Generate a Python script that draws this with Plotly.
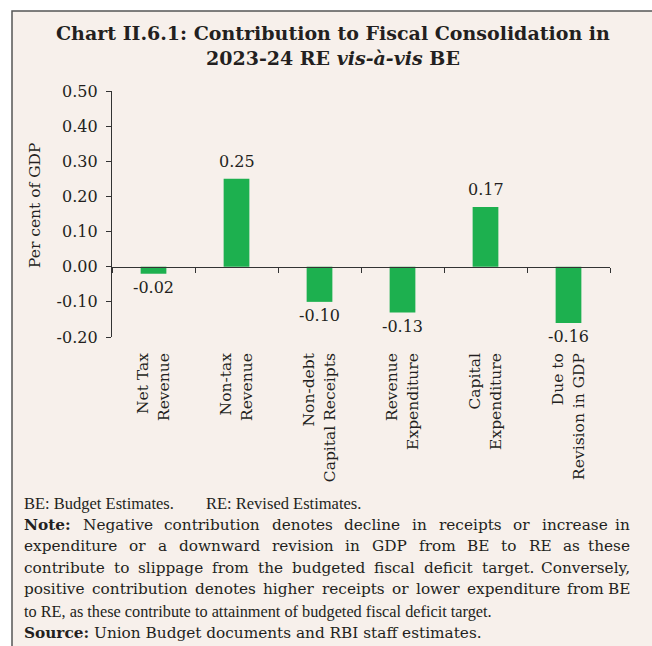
import plotly.graph_objects as go

categories = ["Net Tax<br>Revenue", "Non-tax<br>Revenue", "Non-debt<br>Capital Receipts",
              "Revenue<br>Expenditure", "Capital<br>Expenditure", "Due to<br>Revision in GDP"]
values = [-0.02, 0.25, -0.10, -0.13, 0.17, -0.16]
y_tickvals = [-0.2, -0.1, 0.0, 0.1, 0.2, 0.3, 0.4, 0.5]
y_ticktext = ["-0.20", "-0.10", "0.00", "0.10", "0.20", "0.30", "0.40", "0.50"]
y_range = [-0.2, 0.5]

title_lines = ["<b>Chart II.6.1: Contribution to Fiscal Consolidation in</b>",
               "<b>2023-24 RE <i>vis-à-vis</i> BE</b>"]
justified_lines = [
    "**Note:** Negative contribution denotes decline in receipts or increase in",
    "expenditure or a downward revision in GDP from BE to RE as these",
    "contribute to slippage from the budgeted fiscal deficit target. Conversely,",
    "positive contribution denotes higher receipts or lower expenditure from BE",
]
last_note_line = "to RE, as these contribute to attainment of budgeted fiscal deficit target."
source_line = "<b>Source:</b> Union Budget documents and RBI staff estimates."
abbr_left = "BE: Budget Estimates."
abbr_right = "RE: Revised Estimates."

W, H = 652, 646
L, R, T, B = 112, 42, 91, 309
PW, PH = W - L - R, H - T - B


def px(X):
    return (X - L) / PW


def py(Y):
    return (H - B - Y) / PH


BG = "#F7F0EB"
TXT = "#231F20"
GREEN = "#1DB04F"
SERIF = "DejaVu Serif"
COND = "Liberation Serif"
NOTE_SIZE = 15.3

# approximate DejaVu Serif advance widths (em) for word placement
_w = {" ": .318, ",": .318, "-": .338, ".": .318, ":": .337,
      "B": .735, "C": .765, "D": .802, "E": .730, "G": .799, "N": .837, "P": .675,
      "R": .753, "S": .685,
      "a": .596, "b": .640, "c": .560, "d": .640, "e": .592, "f": .370, "g": .640,
      "h": .644, "i": .320, "k": .606, "l": .320, "m": .948, "n": .644, "o": .602,
      "p": .640, "r": .478, "s": .513, "t": .402, "u": .644, "v": .565, "w": .856,
      "x": .564, "y": .565}
_wb = {"N": .9, "o": .66, "t": .47, "e": .64, ":": .4}


def word_width(w, bold):
    tab = _wb if bold else _w
    return sum(tab.get(ch, _w.get(ch, .6)) for ch in w) * NOTE_SIZE


fig = go.Figure()
fig.add_trace(go.Bar(x=categories, y=values, marker_color=GREEN, marker_line_width=0,
                     showlegend=False, hoverinfo="skip"))
fig.add_trace(go.Scatter(x=categories, y=[None] * len(categories), xaxis="x2", yaxis="y",
                         mode="markers", showlegend=False, hoverinfo="skip"))

zero_frac = (0 - y_range[0]) / (y_range[1] - y_range[0])

annotations = []
for c, v in zip(categories, values):
    annotations.append(dict(x=c, y=v, xref="x", yref="y", text="%.2f" % v, showarrow=False,
                            yanchor="middle", yshift=(17 if v > 0 else -14),
                            font=dict(family=SERIF, size=16, color=TXT)))

# Title
for i, t in enumerate(title_lines):
    annotations.append(dict(x=px(333), y=py(33 + 25 * i), xref="paper", yref="paper", text=t,
                            showarrow=False, xanchor="center", yanchor="middle",
                            font=dict(family=SERIF, size=19, color=TXT)))

note_font = dict(family=SERIF, size=NOTE_SIZE, color=TXT)
cond_font = dict(family=COND, size=16.3, color=TXT)
X0, X1 = 22, 632
LINE0, LSTEP = 503, 21.6
annotations.append(dict(x=px(X0), y=py(LINE0), xref="paper", yref="paper", text=abbr_left,
                        showarrow=False, xanchor="left", yanchor="middle",
                        font=dict(family=COND, size=16.5, color=TXT)))
annotations.append(dict(x=px(204), y=py(LINE0), xref="paper", yref="paper", text=abbr_right,
                        showarrow=False, xanchor="left", yanchor="middle",
                        font=dict(family=COND, size=16.5, color=TXT)))

for i, line in enumerate(justified_lines):
    yy = py(LINE0 + LSTEP * (i + 1))
    words = [(tok.strip("*"), tok.startswith("**")) for tok in line.split(" ")]
    widths = [word_width(w, b) for w, b in words]
    gap = (X1 - X0 - sum(widths)) / (len(words) - 1)
    xpos = X0
    for k, ((w, b), wd) in enumerate(zip(words, widths)):
        last = k == len(words) - 1
        annotations.append(dict(x=px(X1 if last else xpos), y=yy, xref="paper", yref="paper",
                                text=("<b>%s</b>" % w) if b else w, showarrow=False,
                                xanchor="right" if last else "left", yanchor="middle",
                                font=note_font))
        xpos += wd + gap

annotations.append(dict(x=px(X0), y=py(LINE0 + LSTEP * 5), xref="paper", yref="paper",
                        text=last_note_line, showarrow=False, xanchor="left",
                        yanchor="middle", font=cond_font))
annotations.append(dict(x=px(X0), y=py(LINE0 + LSTEP * 6), xref="paper", yref="paper",
                        text=source_line, showarrow=False, xanchor="left",
                        yanchor="middle", font=note_font))

# Y title
annotations.append(dict(x=px(35), y=py(206), xref="paper", yref="paper", text="Per cent of GDP",
                        textangle=-90, showarrow=False, xanchor="center", yanchor="middle",
                        font=dict(family=SERIF, size=15.5, color=TXT)))

shapes = [
    dict(type="rect", xref="paper", yref="paper", x0=px(12), x1=px(700), y0=py(700), y1=py(11),
         fillcolor=BG, line=dict(color="#555555", width=1.5), layer="below"),
]

fig.update_layout(
    width=W, height=H,
    margin=dict(l=L, r=R, t=T, b=B, autoexpand=False),
    paper_bgcolor="white",
    plot_bgcolor="rgba(0,0,0,0)",
    bargap=0.69,
    showlegend=False,
    hovermode=False,
    annotations=annotations,
    shapes=shapes,
    xaxis=dict(type="category", range=[-0.5, len(categories) - 0.5], anchor="free",
               position=zero_frac, showline=True, linecolor="#333333", linewidth=1.2,
               ticks="outside", tickson="boundaries", ticklen=5, tickcolor="#333333",
               showticklabels=False, showgrid=False, zeroline=False, automargin=False),
    xaxis2=dict(type="category", overlaying="x", anchor="y", side="bottom",
                range=[-0.5, len(categories) - 0.5], showline=False, ticks="",
                tickangle=-90, showgrid=False, zeroline=False, automargin=False,
                tickfont=dict(family=SERIF, size=15.5, color=TXT), ticklabelstandoff=12),
    yaxis=dict(range=y_range, tickvals=y_tickvals, ticktext=y_ticktext, showline=True,
               linecolor="#333333", linewidth=1.2, ticks="outside", ticklen=5,
               tickcolor="#333333", showgrid=False, zeroline=False, automargin=False,
               tickfont=dict(family=SERIF, size=16, color=TXT), ticklabelstandoff=5),
)

fig.write_html("out.html", config={"displayModeBar": False, "staticPlot": True},
               post_script="document.body.style.margin='0px';")
